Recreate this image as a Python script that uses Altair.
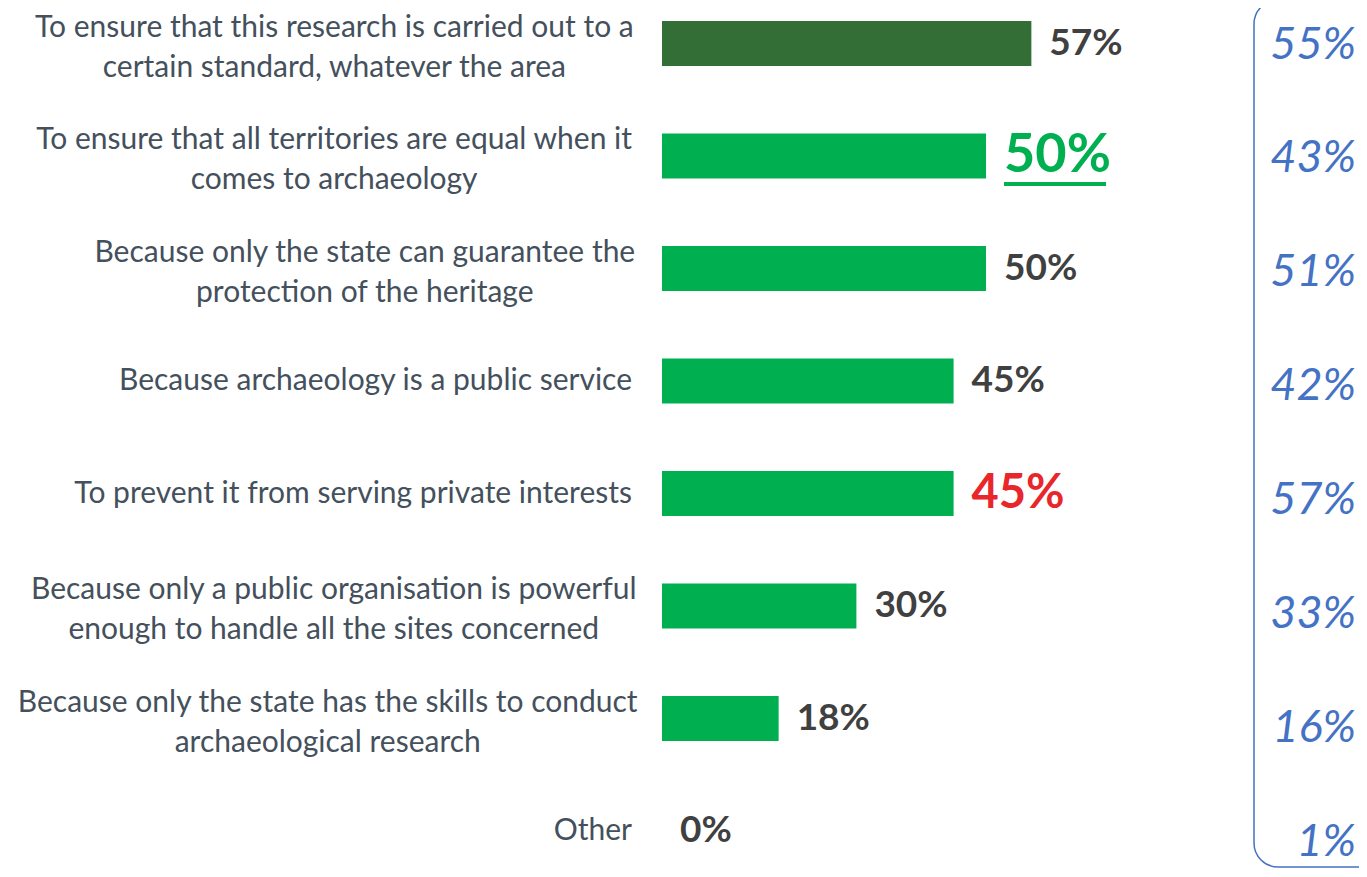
import altair as alt
import pandas as pd

# ---------------- data ----------------
categories = [
    "To ensure that this research is carried out to a|certain standard, whatever the area",
    "To ensure that all territories are equal when it|comes to archaeology",
    "Because only the state can guarantee the|protection of the heritage",
    "Because archaeology is a public service",
    "To prevent it from serving private interests",
    "Because only a public organisation is powerful|enough to handle all the sites concerned",
    "Because only the state has the skills to conduct|archaeological research",
    "Other",
]
shares = [57, 50, 50, 45, 45, 30, 18, 0]
previous = [55, 43, 51, 42, 57, 33, 16, 1]

# ---------------- styling constants ----------------
FONT = "Lato"
LABEL_SIZE = 30
LABEL_COLOR = "#44505C"
VALUE_COLOR = "#404040"
DARK_GREEN = "#336E37"
GREEN = "#00B050"
RED = "#E8262B"
BLUE = "#4472C4"
LABEL_GAP = 30
LINE_H = 40

# approximate glyph advance widths (em) used to centre the lines of a wrapped label
_W = {" ": .226, "a": .479, "b": .525, "c": .423, "d": .525, "e": .498, "f": .305,
      "g": .471, "h": .525, "i": .229, "j": .239, "k": .455, "l": .229, "m": .799,
      "n": .525, "o": .527, "p": .525, "q": .525, "r": .349, "s": .391, "t": .335,
      "u": .525, "v": .452, "w": .715, "x": .433, "y": .453, "z": .395, ",": .25,
      ".": .252, "T": .487, "B": .544, "O": .662}
LATO_FACTOR = 1.061


def text_width(s, size):
    return sum(_W.get(c, .5) for c in s) * size * LATO_FACTOR


nlines = [len(c.split("|")) for c in categories]
label_x = [-LABEL_GAP - max(text_width(l, LABEL_SIZE) for l in c.split("|")) / 2
           for c in categories]

df = pd.DataFrame({
    "cat": categories,
    "rank": list(range(len(categories))),
    "share": shares,
    "prev": previous,
    "vlabel": [f"{v}%" for v in shares],
    "plabel": [f"{v}%" for v in previous],
    "nlines": nlines,
    "lx": label_x,
})

W, H = 697, 850
PX_PER_PCT = 6.48

yscale = alt.Scale(type="band", domain=categories, paddingInner=0.6,
                   paddingOuter=0.0778, align=0.743)
Y = alt.Y("cat:N", scale=yscale, axis=None)
X = alt.X("share:Q", scale=alt.Scale(domain=[0, W / PX_PER_PCT], nice=False, zero=True), axis=None)

base = alt.Chart(df)

bars = base.mark_bar().encode(
    x=X, y=Y,
    color=alt.condition("datum.rank == 0", alt.value(DARK_GREEN), alt.value(GREEN)),
)

values = base.transform_filter("datum.rank != 1 && datum.rank != 4").mark_text(
    align="left", baseline="middle", dx=18, font=FONT, fontWeight="bold",
    fontSize=37, color=VALUE_COLOR,
).encode(x=X, y=Y, text="vlabel:N")

green_val = base.transform_filter("datum.rank == 1").mark_text(
    align="left", baseline="middle", dx=18, font=FONT, fontWeight="bold",
    fontSize=54, color=GREEN,
).encode(x=X, y=Y, text="vlabel:N")

underline = base.transform_filter("datum.rank == 1").mark_rule(
    color=GREEN, strokeWidth=4, xOffset=18, x2Offset=120, yOffset=28,
).encode(x=X, x2=alt.X2("share:Q"), y=Y)

red_val = base.transform_filter("datum.rank == 4").mark_text(
    align="left", baseline="middle", dx=18, font=FONT, fontWeight="bold",
    fontSize=47, color=RED,
).encode(x=X, y=Y, text="vlabel:N")

labels_single = base.transform_filter("datum.nlines == 1").mark_text(
    align="right", baseline="middle", font=FONT, fontSize=LABEL_SIZE, color=LABEL_COLOR,
).encode(x=alt.value(-LABEL_GAP), y=Y, text="cat:N")

labels_multi = base.transform_filter("datum.nlines > 1").mark_text(
    align="center", baseline="middle", font=FONT, fontSize=LABEL_SIZE, color=LABEL_COLOR,
    lineBreak="|", lineHeight=LINE_H, dy=-16,
).encode(x=alt.X("lx:Q", scale=None, axis=None), y=Y, text="cat:N")

right_col = base.mark_text(
    align="right", baseline="middle", font=FONT, fontStyle="italic",
    fontSize=45, color=BLUE,
).encode(
    x=alt.value(W - 3),
    y=alt.Y("cat:N", scale=alt.Scale(type="point", domain=categories, padding=0.2327, align=0.69), axis=None),
    text="plabel:N",
)

bracket = alt.Chart(pd.DataFrame({"k": [0]})).mark_rect(
    fillOpacity=0, stroke=BLUE, strokeWidth=1.5, cornerRadius=24,
).encode(x=alt.value(592), x2=alt.value(860), y=alt.value(-8), y2=alt.value(H + 9))

chart = alt.layer(
    bracket, bars, values, green_val, underline, red_val, labels_single, labels_multi, right_col
).resolve_scale(y="independent").properties(
    width=W, height=H,
    padding={"left": 654, "top": 0, "right": 0, "bottom": 11},
    autosize=alt.AutoSizeParams(type="none"),
).configure_view(stroke=None)

chart.save("out.html", embed_options={"renderer": "svg", "actions": False})
